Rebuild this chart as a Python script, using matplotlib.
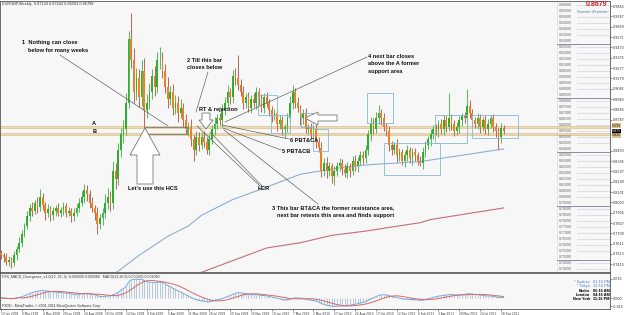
import numpy as np
import matplotlib
matplotlib.use('Agg')
import matplotlib.pyplot as plt
from matplotlib.patches import Polygon, Rectangle

# EURGBP weekly, 13 Jan 2008 .. 25 Sep 2011 (closes)
close = [
    0.750, 0.748, 0.744, 0.746, 0.743, 0.750, 0.756, 0.762, 0.770, 0.778,
    0.787, 0.795, 0.792, 0.800, 0.796, 0.805, 0.798, 0.790, 0.794, 0.788,
    0.792, 0.795, 0.790, 0.793, 0.797, 0.790, 0.792, 0.787, 0.790, 0.795,
    0.800, 0.805, 0.812, 0.808, 0.800, 0.795, 0.790, 0.780, 0.785, 0.790,
    0.800, 0.805, 0.800, 0.830, 0.822, 0.850, 0.865, 0.870, 0.895, 0.955,
    0.935, 0.905, 0.918, 0.900, 0.925, 0.888, 0.895, 0.905, 0.920, 0.910,
    0.935, 0.935, 0.925, 0.910, 0.898, 0.905, 0.890, 0.895, 0.885, 0.890,
    0.878, 0.870, 0.872, 0.860, 0.850, 0.862, 0.855, 0.862, 0.858, 0.850,
    0.860, 0.870, 0.875, 0.880, 0.878, 0.888, 0.895, 0.905, 0.900, 0.920,
    0.918, 0.912, 0.905, 0.895, 0.900, 0.890, 0.898, 0.895, 0.905, 0.898,
    0.890, 0.900, 0.895, 0.888, 0.882, 0.885, 0.875, 0.878, 0.870, 0.872,
    0.880, 0.895, 0.905, 0.895, 0.890, 0.880, 0.885, 0.870, 0.872, 0.865,
    0.870, 0.858, 0.852, 0.830, 0.838, 0.830, 0.835, 0.825, 0.830, 0.835,
    0.838, 0.832, 0.828, 0.835, 0.830, 0.840, 0.835, 0.840, 0.845, 0.842,
    0.850, 0.865, 0.875, 0.870, 0.880, 0.885, 0.880, 0.872, 0.868, 0.855,
    0.850, 0.855, 0.845, 0.848, 0.840, 0.845, 0.850, 0.842, 0.848, 0.845,
    0.840, 0.838, 0.848, 0.855, 0.860, 0.865, 0.870, 0.868, 0.875, 0.870,
    0.878, 0.872, 0.880, 0.875, 0.868, 0.872, 0.878, 0.882, 0.880, 0.892,
    0.885, 0.878, 0.875, 0.880, 0.872, 0.878, 0.870, 0.875, 0.880, 0.872,
    0.868, 0.862, 0.871, 0.868,
]
first_open = 0.752

# wick lengths above / below the body, in thousandths
up_wick = [
    3, 2, 4, 3, 2, 4, 3, 5, 4, 3,
    5, 4, 6, 3, 5, 8, 4, 3, 5, 3,
    4, 3, 5, 3, 4, 3, 4, 3, 5, 4,
    4, 6, 6, 5, 4, 5, 3, 6, 4, 5,
    8, 9, 6, 10, 8, 7, 6, 8, 9, 8,
    25, 12, 10, 9, 10, 12, 8, 9, 7, 10,
    8, 13, 8, 7, 9, 6, 8, 7, 6, 8,
    5, 6, 5, 7, 4, 6, 5, 5, 6, 4,
    5, 4, 6, 4, 5, 6, 5, 7, 4, 6,
    8, 22, 5, 6, 4, 5, 4, 6, 5, 4,
    5, 4, 5, 3, 4, 4, 3, 5, 4, 3,
    5, 6, 7, 4, 5, 3, 4, 5, 3, 4,
    4, 5, 4, 6, 4, 5, 4, 3, 5, 4,
    4, 3, 5, 4, 3, 4, 5, 3, 4, 4,
    5, 4, 6, 5, 6, 8, 4, 5, 4, 5,
    4, 3, 5, 4, 3, 4, 5, 3, 4, 4,
    3, 4, 5, 4, 3, 5, 4, 5, 3, 4,
    5, 4, 24, 4, 3, 5, 4, 3, 4, 16,
    5, 4, 3, 5, 4, 3, 5, 4, 3, 4,
    4, 3, 5, 3,
]
low_wick = [
    3, 4, 3, 4, 5, 3, 4, 3, 4, 3,
    3, 4, 5, 3, 6, 4, 5, 6, 4, 5,
    4, 5, 3, 4, 5, 4, 3, 5, 4, 3,
    4, 3, 5, 6, 5, 4, 6, 10, 5, 6,
    5, 6, 8, 6, 9, 5, 7, 8, 6, 5,
    7, 10, 8, 9, 8, 17, 8, 6, 7, 9,
    6, 8, 7, 6, 8, 5, 7, 6, 8, 5,
    6, 5, 7, 6, 10, 5, 6, 4, 5, 4,
    5, 4, 6, 5, 4, 6, 5, 4, 6, 5,
    6, 5, 4, 6, 5, 4, 5, 4, 6, 5,
    4, 5, 4, 6, 5, 4, 7, 5, 6, 9,
    5, 4, 6, 5, 4, 6, 5, 4, 6, 5,
    5, 6, 4, 6, 5, 7, 5, 6, 8, 5,
    5, 6, 4, 5, 6, 4, 5, 6, 4, 5,
    4, 5, 6, 5, 4, 5, 6, 4, 5, 6,
    5, 4, 6, 5, 4, 6, 5, 4, 6, 5,
    4, 3, 6, 5, 4, 6, 5, 4, 6, 5,
    6, 5, 4, 6, 5, 4, 6, 5, 4, 6,
    5, 6, 4, 5, 6, 4, 5, 6, 4, 5,
    6, 12, 5, 3,
]

# moving averages (bar index, price)
ma_blue_bar = [40, 45, 53, 64, 72, 77, 89, 99, 115, 130, 141, 161, 169, 193]
ma_blue_val = [0.727, 0.735, 0.750, 0.768, 0.778, 0.788, 0.803, 0.812, 0.827,
               0.833, 0.836, 0.839, 0.842, 0.851]
ma_red_bar = [76, 89, 102, 115, 127, 140, 153, 161, 165, 193]
ma_red_val = [0.733, 0.745, 0.757, 0.762, 0.769, 0.773, 0.778, 0.781, 0.784, 0.795]

level_a = 0.8720
level_b = 0.8650
last_price = 0.8679

date_labels = ["13 Jan 2008", "9 Mar 2008", "4 May 2008", "29 Jun 2008", "24 Aug 2008",
               "19 Oct 2008", "14 Dec 2008", "8 Feb 2009", "5 Apr 2009", "31 May 2009",
               "26 Jul 2009", "20 Sep 2009", "15 Nov 2009", "10 Jan 2010", "7 Mar 2010",
               "2 May 2010", "27 Jun 2010", "22 Aug 2010", "17 Oct 2010", "12 Dec 2010",
               "6 Feb 2011", "3 Apr 2011", "29 May 2011", "24 Jul 2011", "18 Sep 2011"]

clock_names = ["* Sydney", "* Tokyo", "Berlin", "London", "New York"]
clock_times = ["01:16 PM", "12:16 PM", "05:16 AM", "04:16 AM", "11:16 PM"]

# ---- derived series
c = np.array(close)
o = np.array([first_open] + close[:-1])
hi = np.maximum(o, c) + np.array(up_wick) / 1000
lo = np.minimum(o, c) - np.array(low_wick) / 1000
idx = np.arange(len(c))


def ema(x, n):
    k = 2 / (n + 1)
    out = [x[0]]
    for v in x[1:]:
        out.append(out[-1] + k * (v - out[-1]))
    return np.array(out)


macd = ema(c, 12) - ema(c, 26)
signal = np.convolve(macd, np.ones(9) / 9, mode='full')[:len(macd)]
signal[:8] = macd[:8]

ann = ['Liberation Sans Narrow', 'Liberation Sans', 'DejaVu Sans']
small = ['Liberation Sans', 'DejaVu Sans']

fig = plt.figure(figsize=(6.25, 3.15), dpi=100)
fig.patch.set_facecolor('white')
ax = fig.add_axes([0, 1 - 272 / 315, 610 / 625, 271 / 315])
mx = fig.add_axes([0, 1 - 309 / 315, 610 / 625, 36 / 315], sharex=ax)
for a in (ax, mx):
    a.set_facecolor('#f7f7f7')
    for s in a.spines.values():
        s.set_color('#555555')
        s.set_linewidth(0.6)

# bar index <-> pixel: x = 2.604 * i + 1
ax.set_xlim(-1 / 2.604, 609 / 2.604)
ax.set_ylim(0.7342, 0.9914)

# candles
bull = c >= o
ax.vlines(idx[bull], lo[bull], hi[bull], color='#5fba5f', lw=0.75, zorder=2)
ax.vlines(idx[~bull], lo[~bull], hi[~bull], color='#b86b5e', lw=0.75, zorder=2)
body = np.maximum(np.abs(c - o), 0.0006)
ax.bar(idx, body, bottom=np.minimum(o, c), width=0.66,
       color=np.where(bull, '#2fae2f', '#ee7f22'), linewidth=0, zorder=3)

# moving averages
ax.plot(ma_blue_bar, ma_blue_val, color='#8eaed0', lw=0.8, zorder=2)
ax.plot(ma_red_bar, ma_red_val, color='#c0707a', lw=0.8, zorder=2)

# support / resistance levels
for lev in (level_a, level_b):
    ax.axhline(lev, color='#dcc18c', lw=1.8, zorder=1)
    ax.axhline(lev, color='#f3e6c8', lw=0.5, zorder=1)

# boxes around price areas (bar from, bar to, price low, price high)
for b0, b1, p0, p1 in [(98.7, 106.0, 0.8831, 0.9021), (103.7, 110.9, 0.8660, 0.8831),
                       (115.3, 119.8, 0.8717, 0.8850), (119.8, 125.6, 0.8489, 0.8698),
                       (140.6, 150.5, 0.8755, 0.9040), (147.1, 168.6, 0.8261, 0.8565),
                       (166.7, 178.9, 0.8565, 0.8831), (180.9, 198.5, 0.8612, 0.8831)]:
    ax.add_patch(Rectangle((b0, p0), b1 - b0, p1 - p0, fill=False,
                           edgecolor='#86b8d4', lw=0.6, zorder=4))
ax.add_patch(Rectangle((55.3, level_b), 16.1, level_a - level_b, fill=False,
                       edgecolor='#666666', lw=0.5, zorder=4))

# hand drawn notes, positions in reference pixels
W, H = 610.0, 271.0


def fr(x, y):
    return x / W, 1 - (y - 1) / H


notes = [(22, 40, "1  Nothing can close"), (28, 48, "below for many weeks"),
         (187, 58, "2 Till this bar"), (187, 65, "closes below"),
         (368, 54, "4 next bar closes"), (368, 61, "above the A former"),
         (368, 69, "support area"), (199, 107, "RT & rejection"),
         (290, 138, "6 PBT&CA"), (282, 149, "5 PBT&CB"), (258, 186, "HCR"),
         (272, 205, "3 This bar BT&CA the former resistance area,"),
         (277, 213, "next bar retests this area and finds support"),
         (128, 186, "Let's use this HCS"), (92, 121, "A"), (93, 129, "B")]
for x, y, t in notes:
    fx, fy = fr(x, y)
    ax.text(fx, fy, t, transform=ax.transAxes, fontsize=4.1, fontweight='bold',
            family=ann, va='top', ha='left', color='#111111', zorder=6)

for x0, y0, x1, y1 in [(60, 55, 168, 126), (208, 72, 196, 112), (367, 57, 225, 122),
                       (222, 125, 289, 139), (223, 128, 281, 150), (224, 130, 318, 204),
                       (210, 132, 262, 186), (197, 126, 260, 186)]:
    (a0, b0), (a1, b1) = fr(x0, y0), fr(x1, y1)
    ax.plot([a0, a1], [b0, b1], transform=ax.transAxes, color='#555555', lw=0.45, zorder=5)

arrows = [
    [(145, 128), (160, 155), (153, 155), (153, 184), (137, 184), (137, 155), (130, 155)],
    [(206, 129), (213, 120), (210, 120), (210, 113), (202, 113), (202, 120), (199, 120)],
    [(305, 118), (318, 112), (318, 115), (337, 115), (337, 121), (318, 121), (318, 125)],
]
for pts in arrows:
    ax.add_patch(Polygon([fr(x, y) for x, y in pts], closed=True, transform=ax.transAxes,
                         facecolor='white', edgecolor='#777777', lw=0.6, zorder=5))

# price ladder panel on the right
ax.plot([557 / W, 557 / W], [0, 1], transform=ax.transAxes, color='#9a9ab8',
        lw=0.4, ls=':', zorder=5)
ladder = [0.96 - 0.005 * k for k in range(45)]
for k, p in enumerate(ladder):
    fx, fy = fr(559, 5 + 6 * k)
    ax.text(fx, fy, f"{p:.5f}", transform=ax.transAxes, fontsize=2.6, family=small,
            color='#666666', va='center', ha='left', zorder=6)
    if k % 9 == 6:
        ax.plot([557 / W, 1], [fy - 0.011] * 2, transform=ax.transAxes,
                color='#7c7c9c', lw=0.6, zorder=5)
    else:
        ax.plot([577 / W, 1], [fy] * 2, transform=ax.transAxes, color='#9a9ab8',
                lw=0.4, ls=(0, (1, 1)), zorder=5)
ax.text(607 / W, fr(0, 5)[1], f"{last_price:.4f}", transform=ax.transAxes, fontsize=5,
        fontweight='bold', color='#d0202a', family=small, ha='right', va='center', zorder=7)
ax.text(607 / W, fr(0, 12)[1], "Spread: 43 points", transform=ax.transAxes, fontsize=2.8,
        color='#6b8fb8', family=small, ha='right', va='center', zorder=7)
ax.text(0.004, fr(0, 2)[1], "EURGBP,Weekly  0.87129 0.87442 0.86503 0.86799",
        transform=ax.transAxes, fontsize=2.8, family=small, color='#333333', va='top')

# right price scale (regular ticks kept clear of the highlighted labels)
flagged = [(level_a, 0.0012, '#dcc18c', 'black'), (last_price, 0.0, 'black', 'white'),
           (level_b, -0.0012, '#dcc18c', 'black')]
ticks = [t for t in np.arange(0.7415, 0.99, 0.0098)
         if min(abs(t - f[0]) for f in flagged) > 0.006]
ax.yaxis.tick_right()
ax.set_yticks(ticks)
ax.yaxis.set_major_formatter(matplotlib.ticker.FormatStrFormatter('%.4f'))
ax.tick_params(axis='y', labelsize=2.4, length=1.5, width=0.4, pad=0.6, colors='#333333')
ax.tick_params(axis='x', bottom=False, labelbottom=False)
for lev, shift, fc, tc in flagged:
    ax.text(1.003, lev + shift, f"{lev:.4f}", transform=ax.get_yaxis_transform(),
            fontsize=2.1, family=small, color=tc, va='center', ha='left',
            bbox=dict(boxstyle='square,pad=0.05', fc=fc, ec='none'), clip_on=False)

# MACD window
top = macd.max() * 25 / 19
mx.set_ylim(-top * 11 / 25, top)
mx.vlines(idx, 0, macd, color='#9db3cc', lw=0.5)
mx.plot(idx, macd, color='#7aa6dc', lw=0.7)
mx.plot(idx, signal, color='#d46a6a', lw=0.7)
mx.yaxis.tick_right()
mx.set_yticks([macd.max(), 0, macd.min()])
mx.yaxis.set_major_formatter(matplotlib.ticker.FormatStrFormatter('%.3f'))
mx.tick_params(axis='y', labelsize=2.4, length=1.5, width=0.4, pad=0.6, colors='#333333')
mx.set_xticks(range(0, len(date_labels) * 8, 8))
mx.set_xticklabels(date_labels, ha='left')
mx.tick_params(axis='x', labelsize=2.1, length=1.5, width=0.4, pad=0.5, colors='#333333')
mx.text(0.004, 0.95, "FXS_MACD_Divergence_v1.0(12, 26, 9)  0.000935 0.002080   "
        "MACD(12,26,9) 0.000935 0.002080", transform=mx.transAxes, fontsize=2.6,
        family=small, color='#333333', va='top')
mx.text(0.004, 0.03, "FXDD - MetaTrader, \u00a9 2001-2011 MetaQuotes Software Corp.",
        transform=mx.transAxes, fontsize=2.6, family=small, color='#333333', va='bottom')
for k, (nm, tm) in enumerate(zip(clock_names, clock_times)):
    col = '#4d7fc0' if k < 2 else 'black'
    yy = 1 - (9 + 4.3 * k) / 36
    mx.text(590 / W, yy, nm, transform=mx.transAxes, fontsize=2.8, family=small,
            color=col, ha='right', va='center', fontweight='bold' if k > 1 else 'normal')
    mx.text(593 / W, yy, tm, transform=mx.transAxes, fontsize=2.8, family=small,
            color=col, ha='left', va='center', fontweight='bold' if k > 1 else 'normal')

fig.savefig('out.png', dpi=100, facecolor=fig.get_facecolor())
